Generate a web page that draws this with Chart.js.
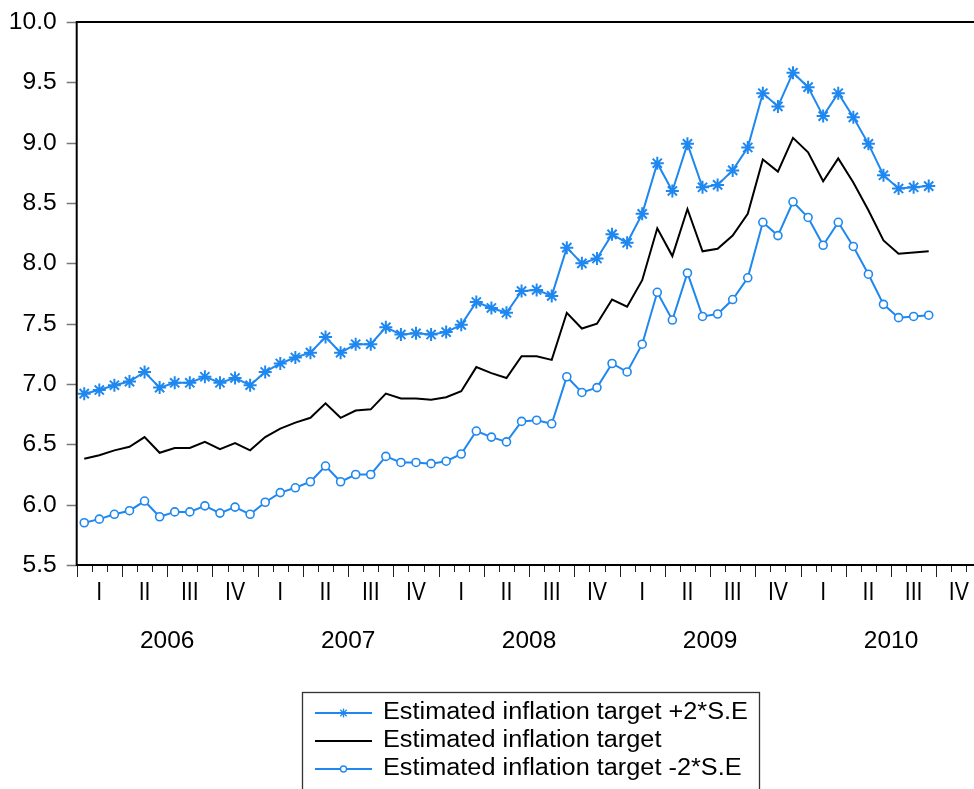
<!DOCTYPE html>
<html>
<head>
<meta charset="utf-8">
<script src="https://cdn.jsdelivr.net/npm/chart.js@4"></script>
<style>
  html, body { margin: 0; padding: 0; background: #fff; overflow: hidden; }
  #wrap { width: 974px; height: 789px; overflow: hidden; position: relative; }
  canvas { display: block; }
</style>
</head>
<body>
<div id="wrap"><canvas id="c" width="990" height="789"></canvas></div>
<script>
// ---- data (monthly, Jan 2006 - Sep 2010) ----
const years = ['2006', '2007', '2008', '2009', '2010'];
const quarters = ['I', 'II', 'III', 'IV'];
const yTicks = [5.5, 6.0, 6.5, 7.0, 7.5, 8.0, 8.5, 9.0, 9.5, 10.0];

const upperSE = [
  6.92, 6.95, 6.99, 7.02, 7.10, 6.97, 7.01, 7.01, 7.06, 7.01, 7.05, 6.99,
  7.10, 7.17, 7.22, 7.26, 7.39, 7.26, 7.33, 7.33, 7.47, 7.41, 7.42, 7.41,
  7.43, 7.49, 7.68, 7.63, 7.59, 7.77, 7.78, 7.73, 8.13, 8.00, 8.04, 8.24,
  8.17, 8.41, 8.83, 8.60, 8.99, 8.63, 8.65, 8.77, 8.96, 9.41, 9.30, 9.58,
  9.46, 9.22, 9.41, 9.21, 8.99, 8.73, 8.62, 8.63, 8.64
];
const target = [
  6.38, 6.41, 6.45, 6.48, 6.56, 6.43, 6.47, 6.47, 6.52, 6.46, 6.51, 6.45,
  6.56, 6.63, 6.68, 6.72, 6.84, 6.72, 6.78, 6.79, 6.92, 6.88, 6.88, 6.87,
  6.89, 6.94, 7.14, 7.09, 7.05, 7.23, 7.23, 7.20, 7.59, 7.46, 7.50, 7.70,
  7.64, 7.86, 8.29, 8.06, 8.45, 8.10, 8.12, 8.23, 8.41, 8.86, 8.76, 9.04,
  8.92, 8.68, 8.87, 8.67, 8.44, 8.19, 8.08, 8.09, 8.10
];
const lowerSE = [
  5.85, 5.88, 5.92, 5.95, 6.03, 5.90, 5.94, 5.94, 5.99, 5.93, 5.98, 5.92,
  6.02, 6.10, 6.14, 6.19, 6.32, 6.19, 6.25, 6.25, 6.40, 6.35, 6.35, 6.34,
  6.36, 6.42, 6.61, 6.56, 6.52, 6.69, 6.70, 6.67, 7.06, 6.93, 6.97, 7.17,
  7.10, 7.33, 7.76, 7.53, 7.92, 7.56, 7.58, 7.70, 7.88, 8.34, 8.23, 8.51,
  8.38, 8.15, 8.34, 8.14, 7.91, 7.66, 7.55, 7.56, 7.57
];
const seriesLabels = [
  'Estimated inflation target +2*S.E',
  'Estimated inflation target',
  'Estimated inflation target -2*S.E'
];

const BLUE = '#1e88f0';
const FONT = '"Liberation Sans", Arial, Helvetica, sans-serif';
const toXY = arr => arr.map((v, i) => ({ x: i + 0.5, y: v }));

function txt(ctx, s, x, y, size, align, sx) {
  ctx.save();
  ctx.font = size + 'px ' + FONT;
  ctx.fillStyle = '#000';
  ctx.textBaseline = 'middle';
  ctx.textAlign = align;
  ctx.translate(x, y);
  ctx.scale(sx || 1, 1);
  ctx.fillText(s, 0, 0);
  ctx.restore();
}

const axesPlugin = {
  id: 'eviewsAxes',
  afterDraw(chart) {
    const ctx = chart.ctx;
    const xs = chart.scales.x, ys = chart.scales.y;
    const a = chart.chartArea;
    ctx.save();
    // y ticks (grey) and labels
    yTicks.forEach(v => {
      const py = Math.round(ys.getPixelForValue(v)) + 0.5;
      ctx.strokeStyle = '#777';
      ctx.lineWidth = 1.5;
      ctx.beginPath(); ctx.moveTo(a.left - 10, py); ctx.lineTo(a.left, py); ctx.stroke();
      txt(ctx, v.toFixed(1), a.left - 20, py, 23, 'right', 1.07);
    });
    // month / quarter ticks
    const nMonths = years.length * 12;
    ctx.strokeStyle = '#222';
    ctx.lineWidth = 1;
    for (let k = 0; k <= nMonths; k++) {
      const px = Math.round(xs.getPixelForValue(k)) + 0.5;
      const len = (k % 3 === 0) ? 12 : 7;
      ctx.beginPath(); ctx.moveTo(px, a.bottom); ctx.lineTo(px, a.bottom + len); ctx.stroke();
    }
    // quarter and year labels
    years.forEach((yr, yi) => {
      quarters.forEach((q, qi) => {
        const px = xs.getPixelForValue(yi * 12 + qi * 3 + 1.5);
        txt(ctx, q, px, a.bottom + 28, 25, 'center', 0.85);
      });
      txt(ctx, yr, xs.getPixelForValue(yi * 12 + 6), a.bottom + 76, 24, 'center', 1.02);
    });
    // axis lines and top frame
    ctx.strokeStyle = '#000';
    ctx.lineWidth = 2;
    ctx.beginPath();
    ctx.moveTo(a.left, a.top); ctx.lineTo(a.left, a.bottom + 1);
    ctx.moveTo(a.left - 1, a.bottom); ctx.lineTo(a.right + 20, a.bottom);
    ctx.moveTo(a.left - 1, a.top); ctx.lineTo(a.right + 20, a.top);
    ctx.stroke();

    // legend
    const bx = 302.5, by = 692.5, bw = 457, bh = 140;
    ctx.strokeStyle = '#333';
    ctx.lineWidth = 1.3;
    ctx.strokeRect(bx, by, bw, bh);
    const rows = [713, 741, 769];
    chart.data.datasets.forEach((ds, i) => {
      const ry = rows[i];
      ctx.strokeStyle = ds.borderColor;
      ctx.lineWidth = 2;
      ctx.beginPath(); ctx.moveTo(315, ry); ctx.lineTo(372, ry); ctx.stroke();
      if (ds.pointRadius > 0) {
        ctx.save();
        ctx.strokeStyle = ds.pointBorderColor;
        ctx.fillStyle = ds.pointBackgroundColor;
        ctx.lineWidth = 1.3;
        Chart.helpers.drawPoint(ctx, {
          pointStyle: ds.pointStyle, rotation: 0,
          radius: ds.pointStyle === 'star' ? 4.5 : 3,
          borderWidth: 1.3
        }, 343.5, ry);
        ctx.restore();
      }
      txt(ctx, ds.label, 383, ry, 23, 'left', 1.1);
    });
    ctx.restore();
  }
};

new Chart(document.getElementById('c'), {
  type: 'line',
  data: {
    datasets: [
      {
        label: seriesLabels[0], data: toXY(upperSE),
        borderColor: BLUE, backgroundColor: BLUE, borderWidth: 2,
        pointStyle: 'star', pointRadius: 6.5, pointBorderWidth: 2,
        pointBorderColor: BLUE, pointBackgroundColor: BLUE, tension: 0
      },
      {
        label: seriesLabels[1], data: toXY(target),
        borderColor: '#000', backgroundColor: '#000', borderWidth: 2,
        pointRadius: 0, tension: 0
      },
      {
        label: seriesLabels[2], data: toXY(lowerSE),
        borderColor: BLUE, backgroundColor: '#fff', borderWidth: 2,
        pointStyle: 'circle', pointRadius: 4, pointBorderWidth: 1.6,
        pointBorderColor: BLUE, pointBackgroundColor: '#fff', tension: 0
      }
    ]
  },
  options: {
    responsive: false,
    animation: false,
    devicePixelRatio: 1,
    layout: { padding: { left: 76.7, top: 22, right: 5.5, bottom: 224 } },
    plugins: { legend: { display: false }, tooltip: { enabled: false } },
    scales: {
      x: { type: 'linear', min: 0, max: 60, display: false },
      y: { type: 'linear', min: 5.5, max: 10.0, display: false }
    },
    elements: { line: { borderCapStyle: 'butt', borderJoinStyle: 'miter' } }
  },
  plugins: [axesPlugin]
});
</script>
</body>
</html>
